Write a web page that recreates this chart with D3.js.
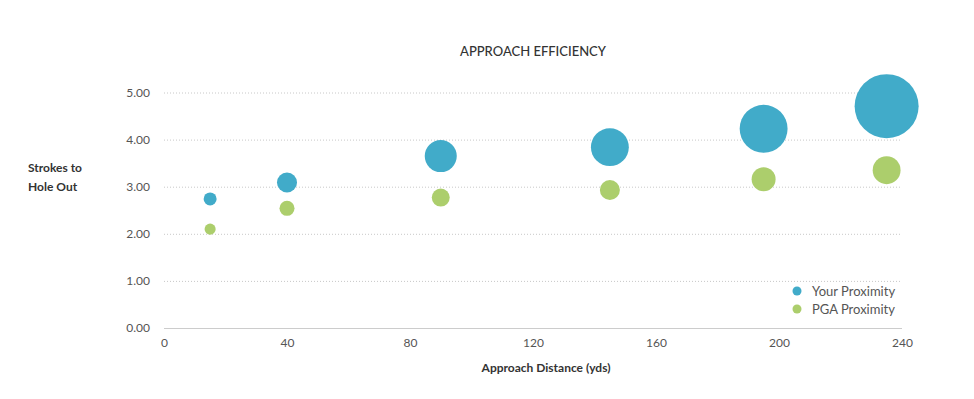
<!DOCTYPE html>
<html><head><meta charset="utf-8">
<script src="https://cdn.jsdelivr.net/npm/d3@7"></script>
<style>body{margin:0;background:#fff}svg{display:block;font-family:Lato,"Open Sans",sans-serif}</style>
</head><body><svg id="c" width="974" height="399"></svg>
<script>
const distances = [15, 40, 90, 145, 195, 235];
const yourStrokes = [2.74, 3.09, 3.65, 3.84, 4.23, 4.71];
const pgaStrokes = [2.10, 2.54, 2.77, 2.93, 3.16, 3.35];
const yourProximity = [4.1, 9.8, 25, 35, 56, 100];
const pgaProximity = [3.0, 5.5, 7.9, 9.8, 14, 19];
const xTicks = [0, 40, 80, 120, 160, 200, 240];
const yTicks = [0, 1, 2, 3, 4, 5];
const seriesNames = ["Your Proximity", "PGA Proximity"];
const colors = ["#41abc9", "#acce6c"];

const svg = d3.select("#c");
const x = d3.scaleLinear().domain([0, 240]).range([164, 902]);
const y = d3.scaleLinear().domain([0, 5]).range([328, 92.5]);
const r = d3.scaleSqrt().domain([0, 100]).range([0, 32]);

// grid
svg.append("g").selectAll("line").data(yTicks.filter(d => d > 0)).join("line")
  .attr("x1", 164).attr("x2", 902).attr("y1", d => y(d) + 0.5).attr("y2", d => y(d) + 0.5)
  .attr("stroke", "#c8c8c8").attr("stroke-dasharray", "1,2").attr("stroke-width", 1);

// y axis labels
const yAxis = d3.axisLeft(y).tickValues(yTicks).tickFormat(d3.format(".2f")).tickSize(0).tickPadding(0);
const gy = svg.append("g").attr("transform", "translate(150,0)").call(yAxis);
gy.select(".domain").remove();
gy.selectAll("text").attr("fill", "#555").attr("font-size", 12).attr("font-family", "Lato,'Open Sans',sans-serif");

// x axis
const xAxis = d3.axisBottom(x).tickValues(xTicks).tickSize(0).tickPadding(10);
const gx = svg.append("g").attr("transform", "translate(0,328.5)").call(xAxis);
gx.select(".domain").attr("stroke", "#ccc").attr("d", "M164,0H902");
gx.selectAll("text").attr("fill", "#555").attr("font-size", 12).attr("font-family", "Lato,'Open Sans',sans-serif");

// bubbles
const data = [];
distances.forEach((d, i) => {
  data.push({s: 0, x: d, y: yourStrokes[i], z: yourProximity[i]});
  data.push({s: 1, x: d, y: pgaStrokes[i], z: pgaProximity[i]});
});
data.sort((a, b) => b.z - a.z);
svg.append("g").selectAll("circle").data(data).join("circle")
  .attr("cx", d => x(d.x)).attr("cy", d => y(d.y)).attr("r", d => r(d.z))
  .attr("fill", d => colors[d.s]);

// title
svg.append("text").attr("x", 533).attr("y", 56).attr("text-anchor", "middle")
  .attr("font-size", 13).attr("fill", "#333").attr("font-weight", 500).text("APPROACH EFFICIENCY");

// y title
const yt = svg.append("text").attr("font-size", 12).attr("font-weight", "bold").attr("fill", "#333");
yt.append("tspan").attr("x", 28).attr("y", 172).text("Strokes to");
yt.append("tspan").attr("x", 28).attr("y", 191).text("Hole Out");

// x title
svg.append("text").attr("x", 546).attr("y", 372).attr("text-anchor", "middle")
  .attr("font-size", 12).attr("font-weight", "bold").attr("fill", "#333").text("Approach Distance (yds)");

// legend
const lg = svg.append("g").selectAll("g").data(seriesNames).join("g")
  .attr("transform", (d, i) => `translate(797,${291 + i * 18})`);
lg.append("circle").attr("r", 4.5).attr("fill", (d, i) => colors[i]);
lg.append("text").attr("x", 15).attr("y", 4.5).attr("font-size", 13).attr("fill", "#555").text(d => d);
</script></body></html>
